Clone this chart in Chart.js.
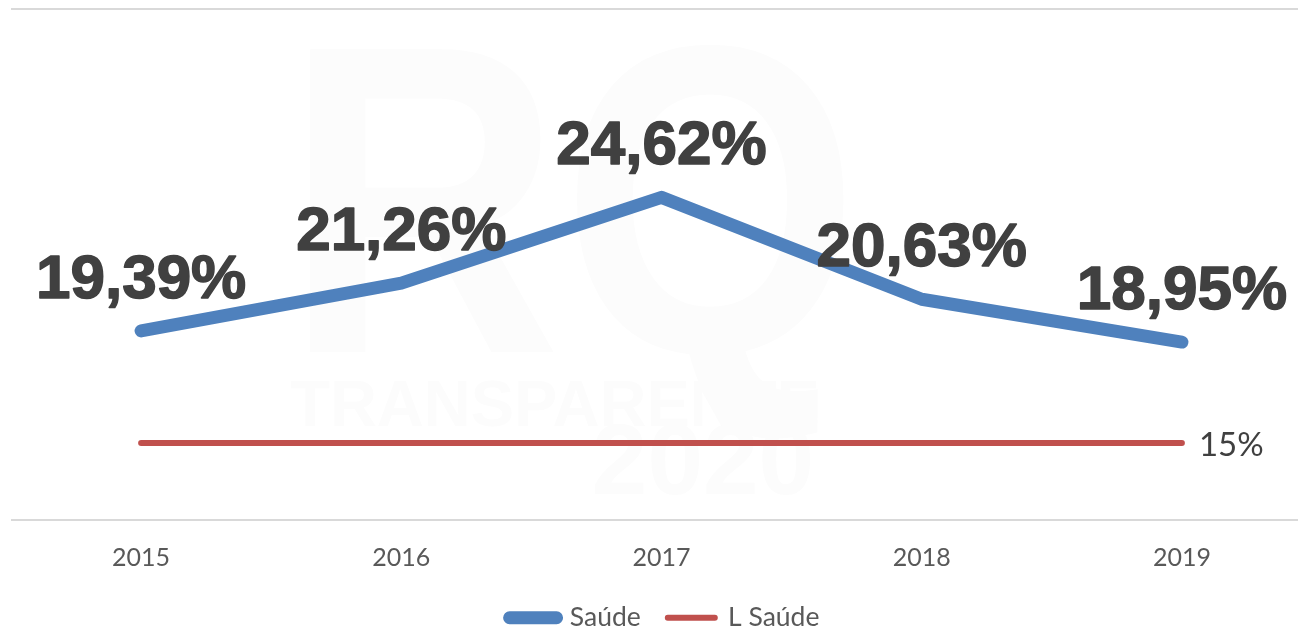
<!DOCTYPE html>
<html><head><meta charset="utf-8">
<style>html,body{margin:0;padding:0;background:#fff;overflow:hidden;width:1298px;height:629px}
#w{position:absolute;left:0;top:0;width:1326px;height:641px}</style>
<script src="https://cdn.jsdelivr.net/npm/chart.js@4"></script>
</head><body><div id="w"><canvas id="c" width="1326" height="641"></canvas></div>
<script>
const categories = ["2015","2016","2017","2018","2019"];
const saude = [19.39,21.26,24.62,20.63,18.95];
const limite = [15,15,15,15,15];
const seriesNames = ["Saúde","L Saúde"];
const watermarkTexts = ["RQ","TRANSPARENTE","2020"];

const fmt = v => v.toFixed(2).replace('.',',') + '%';
const labelsPlugin = {
  id:'valueLabels',
  afterLayout(chart){
    chart.legend.left += 3;
    chart.legend.right += 3;
  },
  afterDatasetsDraw(chart){
    const ctx = chart.ctx, m0 = chart.getDatasetMeta(0), m1 = chart.getDatasetMeta(1);
    ctx.save();
    ctx.fillStyle = '#404040'; ctx.strokeStyle = '#404040'; ctx.lineWidth = 1.5; ctx.lineJoin = 'round';
    ctx.font = 'bold 62px "Liberation Sans"';
    ctx.textAlign = 'center'; ctx.textBaseline = 'middle';
    m0.data.forEach((p,i)=>{
      ctx.strokeText(fmt(saude[i]), p.x, p.y-50);
      ctx.fillText(fmt(saude[i]), p.x, p.y-50);
    });
    const last = m1.data[m1.data.length-1];
    ctx.font = '33px Lato';
    ctx.textAlign = 'left';
    ctx.fillText(limite[limite.length-1]+'%', last.x+17, last.y+2);
    ctx.restore();
  }
};
const watermark = {
  id:'watermark',
  beforeDraw(chart){
    const ctx = chart.ctx;
    ctx.save();
    ctx.fillStyle = '#fcfcfc';
    ctx.textAlign = 'center'; ctx.textBaseline = 'alphabetic';
    ctx.font = 'bold 440px "Liberation Sans"';
    ctx.fillText(watermarkTexts[0], 572, 352, 575);
    ctx.font = 'bold 65px "Liberation Sans"';
    ctx.fillText(watermarkTexts[1], 555, 426);
    ctx.font = 'bold 100px "Liberation Sans"';
    ctx.fillText(watermarkTexts[2], 703, 494);
    ctx.restore();
  }
};
new Chart(document.getElementById('c'),{
  type:'line',
  data:{labels:categories,datasets:[
    {label:seriesNames[0],data:saude,borderColor:'#4f81bd',backgroundColor:'#4f81bd',borderWidth:13,borderCapStyle:'round',borderJoinStyle:'round',pointRadius:0,tension:0,clip:false},
    {label:seriesNames[1],data:limite,borderColor:'#c0504d',backgroundColor:'#c0504d',borderWidth:6,borderCapStyle:'round',borderJoinStyle:'round',pointRadius:0,tension:0,clip:false}
  ]},
  options:{
    responsive:false,animation:false,
    layout:{padding:{left:11,right:14,top:9,bottom:0}},
    scales:{
      x:{offset:true,grid:{display:false},border:{display:false},
         afterFit(s){s.height=58;},
         ticks:{color:'#595959',font:{family:'Lato',size:25},padding:15,maxRotation:0}},
      y:{min:12,max:32,ticks:{stepSize:20,display:false},border:{display:false},
         grid:{color:'#d9d9d9',lineWidth:2,drawTicks:false}}
    },
    plugins:{
      tooltip:{enabled:false},
      legend:{position:'bottom',labels:{
        color:'#595959',font:{family:'Lato',size:26.5},boxWidth:47,boxHeight:0,padding:27,
        generateLabels(chart){
          return chart.data.datasets.map((d,i)=>({text:d.label,fillStyle:d.borderColor,strokeStyle:d.borderColor,lineWidth:d.borderWidth,lineJoin:'round',lineCap:'round',datasetIndex:i,fontColor:'#595959'}));
        }
      }}
    }
  },
  plugins:[watermark,labelsPlugin]
});
</script></body></html>
